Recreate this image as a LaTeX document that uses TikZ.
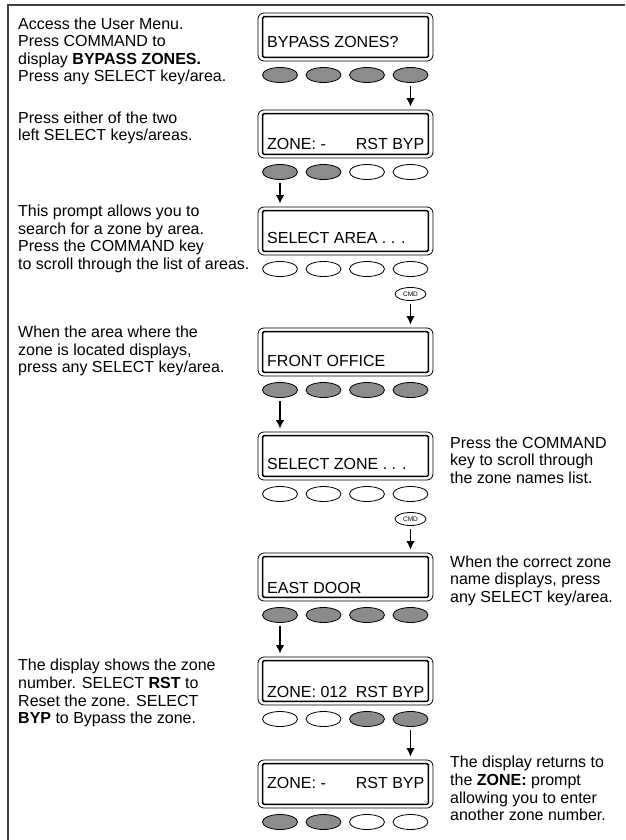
\documentclass[tikz,border=0pt]{standalone}
\usepackage{fontspec}
\setmainfont{Liberation Sans}
\usetikzlibrary{shapes.geometric,arrows.meta}

\definecolor{keygray}{gray}{0.55}
\definecolor{framegray}{gray}{0.25}

\tikzset{
  disp/.style={draw, line width=0.8pt, rounded corners=6pt, minimum width=175pt, minimum height=48pt, inner sep=0pt},
  lcd/.style={draw, line width=1.5pt, rounded corners=1.5pt},
  key/.style={draw, ellipse, line width=0.8pt, minimum width=35pt, minimum height=15pt, inner sep=0pt},
  cmdkey/.style={key, minimum width=31pt, minimum height=13pt, font=\fontsize{6.5}{6.5}\selectfont},
  info/.style={anchor=north west, align=left, inner sep=0pt, font=\fontsize{16}{17.6}\selectfont},
  lcdtext/.style={inner sep=0pt, font=\fontsize{16}{17.6}\selectfont},
  push/.style={line width=1.5pt, -{Latex[length=8.5pt,width=8.5pt]}, shorten <=3pt, shorten >=3pt},
}

\begin{document}
\begin{tikzpicture}[x=1pt,y=-1pt]
\useasboundingbox (0,0) rectangle (625,840);

%frame
\draw[line width=1.5pt, framegray] (8,840) -- (8,5) -- (625,5);

%displays
\foreach \n/\y in {1/37,2/134,3/231,4/352,5/456,6/577,7/681,8/784} {
	\node[disp] (d\n) at (345.5,\y) {};
	\draw[lcd] ([xshift=5pt,yshift=-4pt]d\n.north west) rectangle ([xshift=-5pt,yshift=4pt]d\n.south east);
}

%select keys under each display
\foreach \n/\y/\fills in {1/75/{keygray,keygray,keygray,keygray},
                          2/172/{keygray,keygray,white,white},
                          3/269/{white,white,white,white},
                          4/390/{keygray,keygray,keygray,keygray},
                          5/494/{white,white,white,white},
                          6/615/{keygray,keygray,keygray,keygray},
                          7/719/{white,white,keygray,keygray},
                          8/822/{keygray,keygray,white,white}} {
	\foreach \f [count=\i] in \fills {
		\node[key, fill=\f] (b\n\i) at ({280+43.5*(\i-1)},\y) {};
	}
}

%command keys
\node[cmdkey] (cmd1) at (410.5,294) {CMD};
\node[cmdkey] (cmd2) at (410.5,519) {CMD};

%display texts
\node[lcdtext, anchor=base west] (t1) at (267,48) {BYPASS ZONES?};
\node[lcdtext, anchor=base west] (t2) at (267,149.5) {ZONE: -};
\node[lcdtext, anchor=base east] (t2r) at (424.5,149.5) {RST BYP};
\node[lcdtext, anchor=base west] (t3) at (267,243) {SELECT AREA . . .};
\node[lcdtext, anchor=base west] (t4) at (267,366) {FRONT OFFICE};
\node[lcdtext, anchor=base west] (t5) at (267,469) {SELECT ZONE . . .};
\node[lcdtext, anchor=base west] (t6) at (267,593) {EAST DOOR};
\node[lcdtext, anchor=base west] (t7) at (267,697.5) {ZONE: 012};
\node[lcdtext, anchor=base east] (t7r) at (424.5,697.5) {RST BYP};
\node[lcdtext, anchor=base west] (t8) at (267,788) {ZONE: -};
\node[lcdtext, anchor=base east] (t8r) at (424.5,788) {RST BYP};

%key presses
\draw[push] (b14) -- (b14 |- d2.north);
\draw[push] (b21) -- (b21 |- d3.north);
\draw[push] (cmd1) -- (cmd1 |- d4.north);
\draw[push] (b41) -- (b41 |- d5.north);
\draw[push] (cmd2) -- (cmd2 |- d6.north);
\draw[push] (b61) -- (b61 |- d7.north);
\draw[push] (b74) -- (b74 |- d8.north);

%instructions
\node[info] (s1) at (18,17.4) {Access the User Menu.\\Press COMMAND to\\display \textbf{BYPASS ZONES.}\\Press any SELECT key/area.};
\node[info] (s2) at (18,111.6) {Press either of the two\\left SELECT keys/areas.};
\node[info] (s3) at (18,204.8) {This prompt allows you to\\search for a zone by area.\\Press the COMMAND key\\to scroll through the list of areas.};
\node[info] (s4) at (18,326) {When the area where the\\zone is located displays,\\press any SELECT key/area.};
\node[info] (s5) at (450,436.4) {Press the COMMAND\\key to scroll through\\the zone names list.};
\node[info] (s6) at (450,555.4) {When the correct zone\\name displays, press\\any SELECT key/area.};
\node[info] (s7) at (18,659) {The display shows the zone\\number. SELECT \textbf{RST} to\\Reset the zone. SELECT\\\textbf{BYP} to Bypass the zone.};
\node[info] (s8) at (450,756) {The display returns to\\the \textbf{ZONE:} prompt\\allowing you to enter\\another zone number.};
\end{tikzpicture}
\end{document}
